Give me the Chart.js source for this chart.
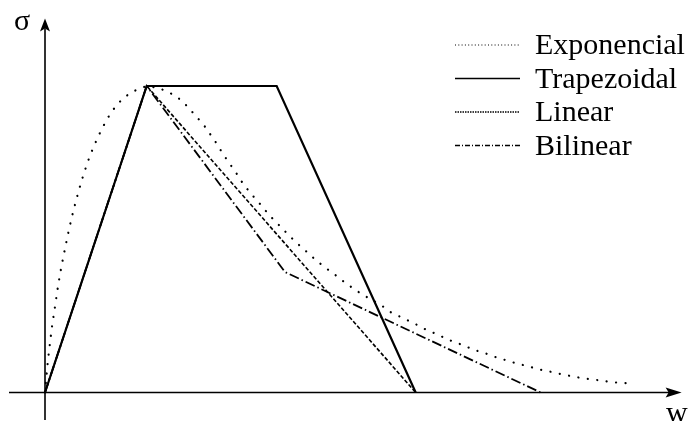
<!DOCTYPE html>
<html>
<head>
<meta charset="utf-8">
<script src="https://cdn.jsdelivr.net/npm/chart.js@4"></script>
<style>
  body { margin: 0; background: #fff; }
  #wrap { width: 689px; height: 421px; }
</style>
</head>
<body>
<div id="wrap"><canvas id="myChart"></canvas></div>
<script>
// w in units of the peak opening, sigma in units of the peak stress
const seriesNames = ["Exponencial", "Trapezoidal", "Linear", "Bilinear"];

const trapW = [0, 1, 2.278, 3.645];
const trapS = [0, 1, 1, 0];

const linW = [0, 1, 3.645];
const linS = [0, 1, 0];

const bilW = [0, 1, 2.36, 4.874];
const bilS = [0, 1, 0.393, 0];

const expW = [0, 0.010, 0.027, 0.049, 0.072, 0.101, 0.128, 0.160, 0.197, 0.236, 0.278, 0.327, 0.381, 0.442,
  0.514, 0.558, 0.600, 0.649, 0.705, 0.770, 0.846, 0.934, 1.0, 1.114, 1.206, 1.288, 1.360, 1.426, 1.492,
  1.551, 1.606, 1.662, 1.711, 1.760, 1.812, 1.868, 1.917, 1.976, 2.035, 2.097, 2.156, 2.219, 2.284, 2.350,
  2.416, 2.485, 2.554, 2.625, 2.697, 2.770, 2.845, 2.920, 2.999, 3.078, 3.156, 3.317, 3.392, 3.474, 3.557,
  3.645, 3.734, 3.818, 3.904, 3.992, 4.081, 4.169, 4.258, 4.346, 4.435, 4.526, 4.615, 4.707, 4.798, 4.890,
  4.982, 5.074, 5.165, 5.261, 5.352, 5.447, 5.543, 5.634, 5.730];
const expS = [0, 0.0385, 0.0995, 0.162, 0.2235, 0.2855, 0.347, 0.409, 0.470, 0.532, 0.592, 0.653, 0.714, 0.773,
  0.829, 0.859, 0.886, 0.913, 0.938, 0.960, 0.979, 0.992, 1.0, 0.994, 0.981, 0.967, 0.947, 0.924, 0.898,
  0.878, 0.851, 0.826, 0.799, 0.774, 0.748, 0.723, 0.696, 0.669, 0.645, 0.622, 0.598, 0.574, 0.552, 0.529,
  0.507, 0.485, 0.465, 0.443, 0.423, 0.404, 0.386, 0.366, 0.347, 0.329, 0.313, 0.282, 0.263, 0.250, 0.237,
  0.223, 0.207, 0.195, 0.182, 0.169, 0.158, 0.146, 0.135, 0.126, 0.115, 0.106, 0.097, 0.089, 0.081, 0.073,
  0.067, 0.060, 0.054, 0.048, 0.044, 0.040, 0.035, 0.032, 0.030];

function toPoints(xs, ys) {
  return xs.map(function (x, i) { return { x: x, y: ys[i] }; });
}

const FONT = '30px "Liberation Serif", "DejaVu Serif", serif';

// axes with arrows and the legend, drawn on top of the scales
const axesPlugin = {
  id: "axesArrows",
  afterDatasetsDraw: function (chart) {
    const ctx = chart.ctx;
    const xs = chart.scales.x;
    const ys = chart.scales.y;
    const x0 = xs.getPixelForValue(0);
    const y0 = ys.getPixelForValue(0);
    const xEnd = xs.getPixelForValue(6.26);
    const yTop = ys.getPixelForValue(1.22);

    ctx.save();
    ctx.strokeStyle = "#000";
    ctx.fillStyle = "#000";
    ctx.lineWidth = 1.6;
    ctx.setLineDash([]);
    ctx.beginPath();
    ctx.moveTo(xs.getPixelForValue(-0.354), y0);
    ctx.lineTo(xEnd - 10, y0);
    ctx.moveTo(x0, ys.getPixelForValue(-0.09));
    ctx.lineTo(x0, yTop + 10);
    ctx.stroke();

    // arrow heads
    ctx.beginPath();
    ctx.moveTo(xEnd, y0);
    ctx.lineTo(xEnd - 16, y0 - 5);
    ctx.lineTo(xEnd - 13, y0);
    ctx.lineTo(xEnd - 16, y0 + 5);
    ctx.closePath();
    ctx.fill();
    ctx.beginPath();
    ctx.moveTo(x0, yTop);
    ctx.lineTo(x0 - 5, yTop + 13);
    ctx.lineTo(x0, yTop + 10);
    ctx.lineTo(x0 + 5, yTop + 13);
    ctx.closePath();
    ctx.fill();

    ctx.font = FONT;
    ctx.textBaseline = "alphabetic";
    ctx.textAlign = "left";
    ctx.fillText("σ", 14, 30);
    ctx.fillText("w", 666, 422);

    // legend
    const dashes = [[1, 2.3], [], [1.5, 1], [5, 2, 1, 2]];
    const widths = [1, 1.5, 1.5, 1.4];
    for (let i = 0; i < seriesNames.length; i++) {
      const base = 54 + i * 33.5;
      ctx.beginPath();
      ctx.setLineDash(dashes[i]);
      ctx.lineWidth = widths[i];
      ctx.moveTo(455, base - 9);
      ctx.lineTo(520, base - 9);
      ctx.stroke();
      ctx.fillText(seriesNames[i], 535, base);
    }
    ctx.restore();
  }
};

const ctx = document.getElementById("myChart").getContext("2d");
const myChart = new Chart(ctx, {
  type: "line",
  data: {
    datasets: [
      {
        label: seriesNames[0],
        data: toPoints(expW, expS),
        borderColor: "#000",
        borderWidth: 2.2,
        borderDash: [0.1, 9.4],
        borderCapStyle: "round",
        pointRadius: 0,
        tension: 0
      },
      {
        label: seriesNames[1],
        data: toPoints(trapW, trapS),
        borderColor: "#000",
        borderWidth: 2.2,
        pointRadius: 0,
        tension: 0
      },
      {
        label: seriesNames[2],
        data: toPoints(linW, linS),
        borderColor: "#000",
        borderWidth: 1.6,
        borderDash: [4, 2],
        pointRadius: 0,
        tension: 0
      },
      {
        label: seriesNames[3],
        data: toPoints(bilW, bilS),
        borderColor: "#000",
        borderWidth: 1.8,
        borderDash: [10, 3, 1.5, 3],
        pointRadius: 0,
        tension: 0
      }
    ]
  },
  options: {
    responsive: true,
    maintainAspectRatio: false,
    animation: false,
    layout: { padding: 0 },
    plugins: {
      legend: { display: false },
      tooltip: { enabled: false }
    },
    scales: {
      x: { type: "linear", display: false, min: -0.4425, max: 6.3325 },
      y: { type: "linear", display: false, min: -0.093, max: 1.2806 }
    }
  },
  plugins: [axesPlugin]
});
</script>
</body>
</html>
